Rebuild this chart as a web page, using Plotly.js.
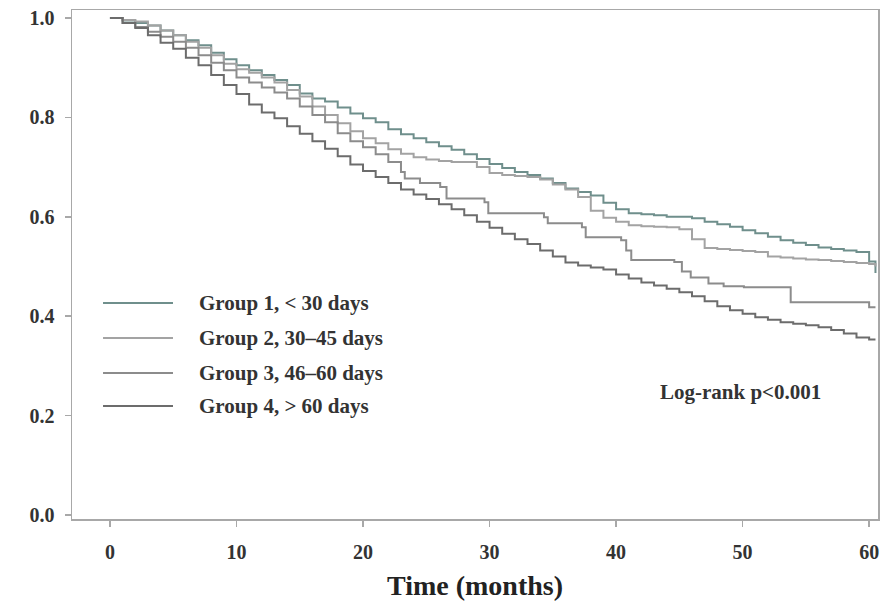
<!DOCTYPE html>
<html>
<head>
<meta charset="utf-8">
<script src="https://cdn.plot.ly/plotly-3.0.1.min.js"></script>
<style>html,body{margin:0;padding:0;background:#fff;}#chart{width:891px;height:611px;}</style>
</head>
<body>
<div id="chart"></div>
<script>
// Kaplan-Meier survival estimates
const groupNames = ["Group 1, < 30 days", "Group 2, 30\u201345 days", "Group 3, 46\u201360 days", "Group 4, > 60 days"];

const g1Time = [0,1,2,3,4,5,6,7,8,9,10,11,12,13,14,15,16,17,18,19,20,21,22,23,24,25,26,27,28,29,30,31,32,33,34,35,36,37,38,39,40,41,42,43,44,45,46,47,48,49,50,51,52,53,54,55,56,57,58,59,60,60.5];
const g1Surv = [1.0,0.995,0.99,0.985,0.975,0.965,0.955,0.945,0.93,0.917,0.905,0.895,0.885,0.875,0.865,0.848,0.838,0.832,0.82,0.808,0.798,0.79,0.776,0.766,0.758,0.75,0.742,0.735,0.726,0.716,0.706,0.698,0.69,0.684,0.677,0.668,0.657,0.65,0.643,0.628,0.615,0.607,0.605,0.603,0.6,0.6,0.597,0.59,0.585,0.58,0.573,0.567,0.56,0.553,0.548,0.543,0.538,0.535,0.532,0.529,0.51,0.487];

const g2Time = [0,1,2,3,4,5,6,7,8,9,10,11,12,13,14,15,16,17,18,19,20,21,22,23,24,25,26,27,28,29,30,31,32,33,34,35,36,37,38,39,40,41,42,43,44,45,46,47,48,49,50,51,52,53,54,55,56,57,58,59,60,60.5];
const g2Surv = [1.0,0.996,0.993,0.985,0.975,0.965,0.952,0.94,0.925,0.908,0.897,0.89,0.88,0.87,0.855,0.842,0.822,0.805,0.788,0.772,0.758,0.748,0.736,0.727,0.72,0.715,0.712,0.71,0.71,0.7,0.688,0.684,0.682,0.68,0.675,0.665,0.655,0.64,0.612,0.598,0.59,0.583,0.581,0.58,0.579,0.575,0.555,0.537,0.535,0.533,0.531,0.529,0.52,0.518,0.516,0.514,0.513,0.511,0.509,0.507,0.505,0.5];

const g3Time = [0,1,2,3,4,5,6,7,8,9,10,11,12,13,14,15,16,17,18,19,20,21,22,23,23.3,24.5,26.1,26.6,29.6,29.9,34.3,34.6,37.3,37.6,40.4,40.8,41.2,44.6,45.2,45.9,47.3,48.5,50.1,53.8,60.0,60.5];
const g3Surv = [1.0,0.99,0.982,0.972,0.962,0.952,0.94,0.925,0.91,0.895,0.88,0.87,0.86,0.85,0.838,0.822,0.805,0.79,0.768,0.752,0.74,0.726,0.71,0.69,0.677,0.668,0.66,0.637,0.629,0.607,0.599,0.587,0.579,0.559,0.553,0.532,0.513,0.509,0.49,0.478,0.466,0.46,0.458,0.428,0.418,0.418];

const g4Time = [0,1,2,3,4,5,6,7,8,9,10,11,12,13,14,15,16,17,18,19,20,21,22,23,24,25,26,27,28,29,30,31,32,33,34,35,36,37,38,39,40,41,42,43,44,45,46,47,48,49,50,51,52,53,54,55,56,57,58,59,60,60.5];
const g4Surv = [1.0,0.99,0.98,0.965,0.95,0.938,0.92,0.905,0.885,0.865,0.847,0.826,0.81,0.798,0.782,0.767,0.752,0.737,0.722,0.705,0.692,0.68,0.668,0.655,0.645,0.636,0.625,0.615,0.603,0.59,0.578,0.566,0.555,0.545,0.532,0.52,0.508,0.502,0.498,0.494,0.484,0.476,0.468,0.462,0.455,0.448,0.44,0.43,0.42,0.412,0.405,0.398,0.393,0.388,0.385,0.382,0.378,0.372,0.365,0.357,0.353,0.353];

const xTickVals = [0,10,20,30,40,50,60];
const yTickVals = [0.0,0.2,0.4,0.6,0.8,1.0];
const xTitle = "Time (months)";
const noteText = "Log-rank p<0.001";

const colors = ["#6f8f8c", "#a3a3a3", "#8c8c8c", "#6c6c6c"];
const times = [g1Time, g2Time, g3Time, g4Time];
const survs = [g1Surv, g2Surv, g3Surv, g4Surv];

const serif = "'Liberation Serif', 'Times New Roman', serif";

const traces = groupNames.map((name, i) => ({
  type: "scatter", mode: "lines", name: name,
  x: times[i], y: survs[i],
  line: {shape: "hv", color: colors[i], width: 2},
  showlegend: false, hoverinfo: "x+y+name"
}));

// custom legend (line samples + labels), placed in paper coordinates
const legendRowsY = [0.4244, 0.3556, 0.2868, 0.2220];
const shapes = groupNames.map((n, i) => ({
  type: "line", xref: "paper", yref: "paper",
  x0: 0.0385, x1: 0.1253, y0: legendRowsY[i], y1: legendRowsY[i],
  line: {color: colors[i], width: 2}
}));
const annotations = groupNames.map((n, i) => ({
  xref: "paper", yref: "paper", x: 0.155, y: legendRowsY[i],
  xanchor: "left", yanchor: "middle", showarrow: false,
  text: "<b>" + n + "</b>", font: {family: serif, size: 21, color: "#333"}
}));
annotations.push({
  xref: "paper", yref: "paper", x: 0.830, y: 0.2495,
  xanchor: "center", yanchor: "middle", showarrow: false,
  text: "<b>" + noteText + "</b>", font: {family: serif, size: 21, color: "#333"}
});

const layout = {
  width: 891, height: 611,
  margin: {l: 72, r: 13, t: 10, b: 92},
  paper_bgcolor: "#ffffff", plot_bgcolor: "#ffffff",
  showlegend: false,
  xaxis: {
    range: [-3.0, 60.7], tickvals: xTickVals, ticktext: xTickVals.map(String),
    showgrid: false, zeroline: false, showline: true, mirror: true,
    linecolor: "#a8a8a8", linewidth: 1.5,
    ticks: "outside", ticklen: 6, tickcolor: "#a8a8a8", tickwidth: 1.5,
    ticklabelstandoff: 8,
    tickfont: {family: serif, size: 20, color: "#333", weight: "bold"},
    title: {text: "<b>" + xTitle + "</b>", font: {family: serif, size: 28, color: "#222"}, standoff: 14}
  },
  yaxis: {
    range: [-0.008, 1.016], tickvals: yTickVals, ticktext: yTickVals.map(v => v.toFixed(1)),
    showgrid: false, zeroline: false, showline: true, mirror: true,
    linecolor: "#a8a8a8", linewidth: 1.5,
    ticks: "outside", ticklen: 6, tickcolor: "#a8a8a8", tickwidth: 1.5,
    ticklabelstandoff: 6,
    tickfont: {family: serif, size: 20, color: "#333", weight: "bold"}
  },
  shapes: shapes,
  annotations: annotations
};

Plotly.newPlot("chart", traces, layout, {displayModeBar: false, staticPlot: true});
</script>
</body>
</html>
